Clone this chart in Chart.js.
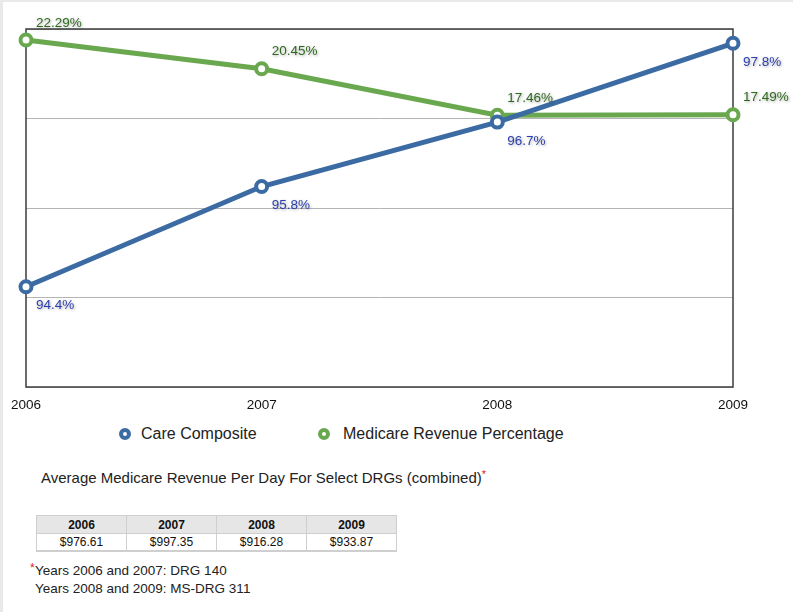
<!DOCTYPE html>
<html>
<head>
<meta charset="utf-8">
<script src="https://cdn.jsdelivr.net/npm/chart.js@4/dist/chart.umd.min.js"></script>
<style>
  html, body { margin: 0; padding: 0; }
  body { width: 793px; height: 612px; background: #e9e9e9; position: relative; overflow: hidden;
         font-family: "Liberation Sans", Arial, Helvetica, sans-serif; color: #222; }
  #page { position: absolute; left: 3px; top: 2px; right: 0; bottom: 0; background: #fff; }
  #wrap { position: absolute; left: 0; top: 0; width: 793px; height: 420px; }
  .legend { position: absolute; top: 423px; left: 0; width: 793px; height: 22px; font-size: 16px; color: #222; }
  .legend span { position: absolute; top: 0; line-height: 22px; white-space: nowrap; }
  .legend i { position: absolute; top: 5px; width: 4px; height: 4px; border-radius: 50%; border: 4px solid; background: #fff; }
  .title { position: absolute; left: 41px; top: 468px; font-size: 15px; color: #222; white-space: nowrap; }
  .req { color: #e0261b; font-size: 11px; vertical-align: 5px; }
  table { position: absolute; left: 36px; top: 515px; border-collapse: collapse; font-size: 12px; }
  th, td { width: 89px; padding: 0; text-align: center; border: 1px solid #cfcfcf; color: #111; }
  th { background: #e6e6e6; height: 17px; font-weight: bold; }
  td { height: 16px; border-bottom: 2px solid #cfcfcf; }
  .note { position: absolute; left: 35px; font-size: 13.5px; color: #222; white-space: nowrap; }
  .note .req { position: absolute; left: -5px; top: -2px; font-size: 12px; }
</style>
</head>
<body>
<div id="page"></div>
<div id="wrap"><canvas id="chart" width="793" height="420"></canvas></div>

<div class="legend">
  <i style="left:119px;border-color:#3b6ba2"></i><span style="left:141px">Care Composite</span>
  <i style="left:318px;border-color:#6aa84f"></i><span style="left:343px">Medicare Revenue Percentage</span>
</div>

<div class="title">Average Medicare Revenue Per Day For Select DRGs (combined)<span class="req">*</span></div>

<table id="revTable"><thead><tr></tr></thead><tbody><tr></tr></tbody></table>

<div class="note" style="top:563px"><span class="req">*</span>Years 2006 and 2007: DRG 140</div>
<div class="note" style="top:581px">Years 2008 and 2009: MS-DRG 311</div>

<script>
// years on the x axis
const years = ['2006', '2007', '2008', '2009'];
// care composite score (%)
const careComposite = [94.4, 95.8, 96.7, 97.8];
// medicare revenue share (%)
const medicareRevenue = [22.29, 20.45, 17.46, 17.49];
// average revenue per day, select DRGs
const revenuePerDay = ['$976.61', '$997.35', '$916.28', '$933.87'];

// fill the small table under the chart
const headRow = document.querySelector('#revTable thead tr');
const bodyRow = document.querySelector('#revTable tbody tr');
years.forEach((y, i) => {
  headRow.insertAdjacentHTML('beforeend', '<th>' + y + '</th>');
  bodyRow.insertAdjacentHTML('beforeend', '<td>' + revenuePerDay[i] + '</td>');
});

const BLUE = '#3b6ba2';
const GREEN = '#6aa84f';

// box around the plot area
const frame = {
  id: 'frame',
  beforeDatasetsDraw(chart) {
    const { ctx, chartArea: a } = chart;
    ctx.save();
    ctx.strokeStyle = '#3c3c3c';
    ctx.lineWidth = 1.5;
    ctx.strokeRect(a.left, a.top, a.right - a.left, a.bottom - a.top);
    ctx.restore();
  }
};

// value labels next to each point
const pointLabels = {
  id: 'pointLabels',
  afterDatasetsDraw(chart) {
    const ctx = chart.ctx;
    chart.data.datasets.forEach((ds, i) => {
      const meta = chart.getDatasetMeta(i);
      meta.data.forEach((pt, j) => {
        ctx.save();
        ctx.font = '13.5px "Liberation Sans", Arial, sans-serif';
        ctx.textAlign = 'left';
        ctx.textBaseline = 'middle';
        ctx.fillStyle = ds.labelColor;
        ctx.shadowColor = 'rgba(0,0,0,0.35)';
        ctx.shadowBlur = 3;
        ctx.shadowOffsetX = 1;
        ctx.shadowOffsetY = 1;
        ctx.fillText(ds.data[j] + '%', pt.x + 10, pt.y + ds.labelOffset);
        ctx.restore();
      });
    });
  }
};

new Chart(document.getElementById('chart'), {
  type: 'line',
  data: {
    labels: years,
    datasets: [
      {
        label: 'Care Composite',
        data: careComposite,
        yAxisID: 'yCare',
        borderColor: BLUE,
        borderWidth: 5,
        pointRadius: 5.5,
        pointBorderWidth: 4,
        pointBackgroundColor: '#fff',
        pointBorderColor: BLUE,
        clip: false,
        labelColor: '#2b3fae',
        labelOffset: 19
      },
      {
        label: 'Medicare Revenue Percentage',
        data: medicareRevenue,
        yAxisID: 'yMedicare',
        borderColor: GREEN,
        borderWidth: 5,
        pointRadius: 5.5,
        pointBorderWidth: 4,
        pointBackgroundColor: '#fff',
        pointBorderColor: GREEN,
        clip: false,
        labelColor: '#2f6a1e',
        labelOffset: -17
      }
    ]
  },
  options: {
    responsive: false,
    animation: false,
    layout: { padding: { left: 26, right: 60, top: 29, bottom: 0 } },
    plugins: { legend: { display: false }, tooltip: { enabled: false } },
    scales: {
      x: {
        offset: false,
        grid: { display: false },
        border: { display: false },
        ticks: { color: '#111', font: { size: 13.5, family: '"Liberation Sans", Arial, sans-serif' }, padding: 2, maxRotation: 0 },
        afterFit(s) { s.height = 33; }
      },
      yCare: {
        position: 'left',
        min: 93, max: 98,
        ticks: { display: false, count: 5 },
        grid: { color: '#b4b4b4', lineWidth: 1, drawTicks: false },
        border: { display: false },
        afterFit(s) { s.width = 0; }
      },
      yMedicare: {
        position: 'right',
        min: 0, max: 23,
        ticks: { display: false },
        grid: { display: false },
        border: { display: false },
        afterFit(s) { s.width = 0; }
      }
    }
  },
  plugins: [frame, pointLabels]
});
</script>
</body>
</html>
